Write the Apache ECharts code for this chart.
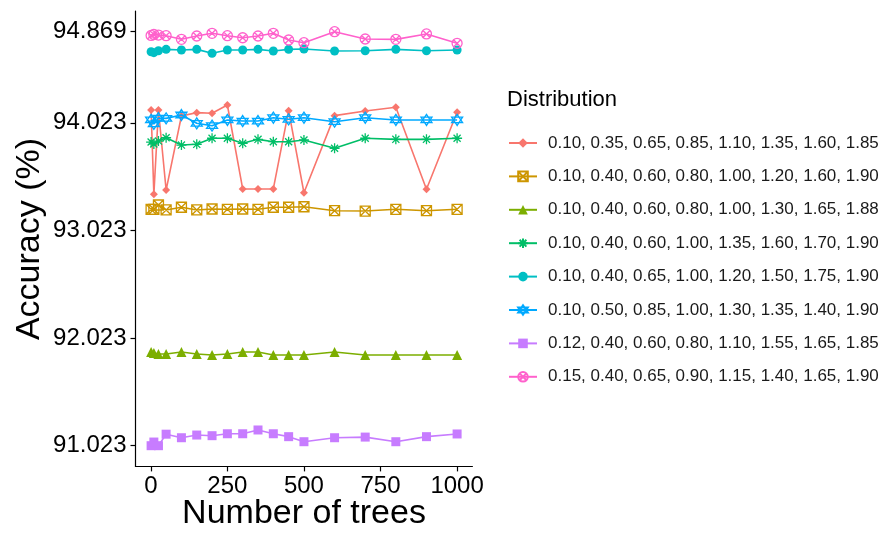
<!DOCTYPE html>
<html>
<head>
<meta charset="utf-8">
<script src="https://cdn.jsdelivr.net/npm/echarts@6/dist/echarts.min.js"></script>
<style>html,body{margin:0;padding:0;background:#fff}#c{width:891px;height:536px}</style>
</head>
<body>
<div id="c"></div>
<script>
const trees = [1, 10, 25, 50, 100, 150, 200, 250, 300, 350, 400, 450, 500, 600, 700, 800, 900, 1000];
const seriesNames = [
  "0.10, 0.35, 0.65, 0.85, 1.10, 1.35, 1.60, 1.85",
  "0.10, 0.40, 0.60, 0.80, 1.00, 1.20, 1.60, 1.90",
  "0.10, 0.40, 0.60, 0.80, 1.00, 1.30, 1.65, 1.88",
  "0.10, 0.40, 0.60, 1.00, 1.35, 1.60, 1.70, 1.90",
  "0.10, 0.40, 0.65, 1.00, 1.20, 1.50, 1.75, 1.90",
  "0.10, 0.50, 0.85, 1.00, 1.30, 1.35, 1.40, 1.90",
  "0.12, 0.40, 0.60, 0.80, 1.10, 1.55, 1.65, 1.85",
  "0.15, 0.40, 0.65, 0.90, 1.15, 1.40, 1.65, 1.90"
];
const accRed    = [94.142, 93.358, 94.142, 93.398, 94.086, 94.117, 94.111, 94.188, 93.408, 93.408, 93.408, 94.135, 93.373, 94.089, 94.132, 94.167, 93.405, 94.120];
const accGold   = [93.219, 93.219, 93.259, 93.213, 93.238, 93.213, 93.222, 93.219, 93.222, 93.219, 93.238, 93.238, 93.243, 93.206, 93.203, 93.219, 93.206, 93.219];
const accOlive  = [91.893, 91.885, 91.875, 91.875, 91.893, 91.875, 91.866, 91.875, 91.893, 91.893, 91.866, 91.866, 91.866, 91.893, 91.866, 91.866, 91.866, 91.866];
const accGreen  = [93.844, 93.826, 93.853, 93.884, 93.816, 93.823, 93.879, 93.879, 93.832, 93.869, 93.847, 93.847, 93.863, 93.786, 93.879, 93.869, 93.869, 93.879];
const accTeal   = [94.683, 94.674, 94.692, 94.705, 94.699, 94.705, 94.668, 94.699, 94.699, 94.705, 94.690, 94.705, 94.708, 94.690, 94.692, 94.705, 94.692, 94.699];
const accBlue   = [94.049, 94.012, 94.067, 94.064, 94.095, 94.018, 93.996, 94.049, 94.039, 94.039, 94.070, 94.055, 94.070, 94.033, 94.070, 94.049, 94.049, 94.049];
const accPurple = [91.023, 91.057, 91.023, 91.130, 91.097, 91.122, 91.116, 91.134, 91.134, 91.169, 91.134, 91.107, 91.060, 91.097, 91.103, 91.060, 91.107, 91.132];
const accPink   = [94.834, 94.843, 94.838, 94.832, 94.798, 94.829, 94.854, 94.832, 94.813, 94.829, 94.854, 94.792, 94.767, 94.869, 94.801, 94.798, 94.848, 94.761];
const yTicks = [91.023, 92.023, 93.023, 94.023, 94.869];
const xTicks = [0, 250, 500, 750, 1000];

const colors = ['#F8766D', '#CD9600', '#7CAE00', '#00BE67', '#00BFC4', '#00A9FF', '#C77CFF', '#FF61CC'];
const SYM = {
  sqx: 'path://M0,0L10,0L10,10L0,10ZM0,0L10,10M10,0L0,10',
  ast: 'path://M5,0L5,10M0,5L10,5M1.46,1.46L8.54,8.54M8.54,1.46L1.46,8.54',
  david: 'path://M5,0L10,7.5L0,7.5ZM5,10L0,2.5L10,2.5Z',
  cx: 'path://M10,5A5,5,0,1,1,0,5A5,5,0,1,1,10,5ZM1.46,1.46L8.54,8.54M8.54,1.46L1.46,8.54'
};
const dataSets = [accRed, accGold, accOlive, accGreen, accTeal, accBlue, accPurple, accPink];
const symbols = ['diamond', SYM.sqx, 'triangle', SYM.ast, 'circle', SYM.david, 'rect', SYM.cx];
const sizes = [8, 10, 10, 10, 9, 11, 9, 10];
const outline = [false, true, false, true, false, true, false, true];

const FONT = 'Liberation Sans';
const series = dataSets.map((d, i) => ({
  type: 'line',
  name: seriesNames[i],
  data: trees.map((t, k) => [t, d[k]]),
  symbol: symbols[i],
  symbolSize: sizes[i],
  showAllSymbol: true,
  lineStyle: { color: colors[i], width: 1.6 },
  itemStyle: outline[i]
    ? { color: 'rgba(255,255,255,0)', borderColor: colors[i], borderWidth: 1.3 }
    : { color: colors[i], borderWidth: 0 },
  emphasis: { disabled: true },
  z: 2 + i
}));

const chart = echarts.init(document.getElementById('c'), null, { renderer: 'canvas' });
chart.setOption({
  animation: false,
  backgroundColor: '#fff',
  grid: { left: 135.5, right: 418.6, top: 11, bottom: 69.6, containLabel: false },
  xAxis: {
    type: 'value', min: -49.95, max: 1049.95,
    splitLine: { show: false },
    axisLine: { onZero: false, lineStyle: { color: '#000', width: 1.2 } },
    axisTick: { customValues: xTicks, length: 5, lineStyle: { color: '#000', width: 1.2 } },
    axisLabel: { customValues: xTicks, color: '#000', fontSize: 24, fontFamily: FONT, margin: 8,
      formatter: v => String(Math.round(v)) }
  },
  yAxis: {
    type: 'value', min: 90.8307, max: 95.0613,
    splitLine: { show: false },
    axisLine: { onZero: false, lineStyle: { color: '#000', width: 1.2 } },
    axisTick: { customValues: yTicks, length: 5, lineStyle: { color: '#000', width: 1.2 } },
    axisLabel: { customValues: yTicks, color: '#000', fontSize: 24, fontFamily: FONT, margin: 9,
      formatter: v => Number(v).toFixed(3) }
  },
  legend: {
    orient: 'vertical', left: 503, top: 128,
    itemWidth: 28, itemHeight: 12, itemGap: 13.4,
    selectedMode: false,
    textStyle: { fontSize: 17, fontFamily: FONT, color: '#1a1a1a', lineHeight: 20, padding: [0, 0, 0, 6] },
    data: seriesNames
  },
  graphic: [
    { type: 'text', left: 507, top: 89, style: { text: 'Distribution', fontSize: 22, fontFamily: FONT, fill: '#000' } },
    { type: 'text', x: 304, y: 514, style: { text: 'Number of trees', fontSize: 34, fontFamily: FONT, fill: '#000', align: 'center', verticalAlign: 'middle' } },
    { type: 'text', x: 30, y: 239, rotation: Math.PI / 2, style: { text: 'Accuracy (%)', fontSize: 34, fontFamily: FONT, fill: '#000', align: 'center', verticalAlign: 'middle' } }
  ],
  series: series
});
</script>
</body>
</html>
